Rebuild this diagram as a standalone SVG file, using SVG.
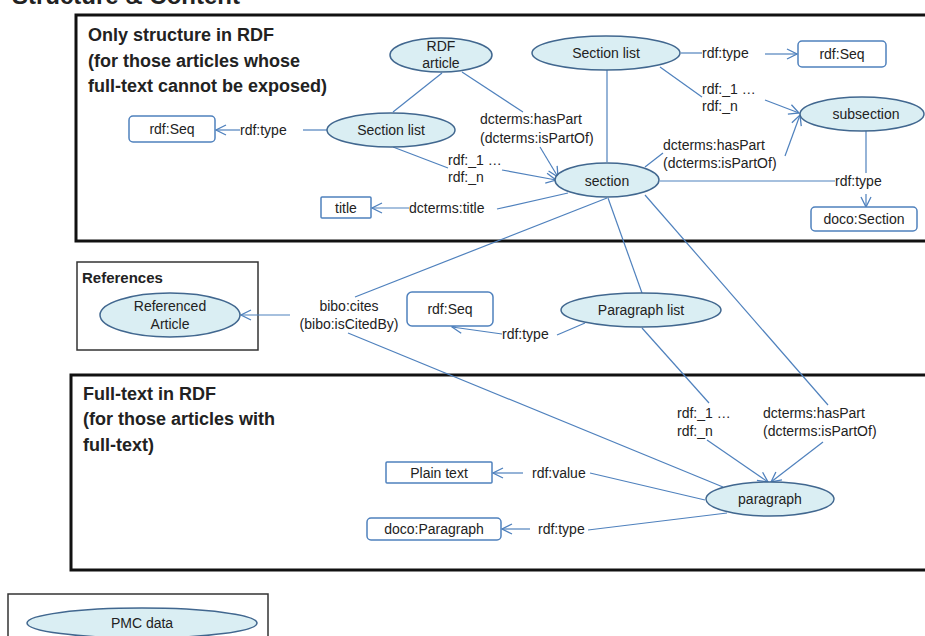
<svg xmlns="http://www.w3.org/2000/svg" width="925" height="636" viewBox="0 0 925 636">
  <defs>
    <marker id="arrow" viewBox="0 0 12 12" refX="11" refY="6" markerWidth="12" markerHeight="12" markerUnits="userSpaceOnUse" orient="auto">
      <path d="M1,1 L11,6 L1,11" fill="none" stroke="#4F81BD" stroke-width="1.3"/>
    </marker>
  </defs>
  <style>
    text { font-family: "Liberation Sans", Arial, sans-serif; fill: #222; }
    .title { font-size: 24px; font-weight: bold; }
    .head { font-size: 18px; font-weight: bold; }
    .refs { font-size: 15px; font-weight: bold; }
    .lbl { font-size: 14px; }
    .ctr { text-anchor: middle; }
    .frame { fill: none; stroke: #111; stroke-width: 3; }
    .thin { fill: none; stroke: #333; stroke-width: 1.5; }
    .ell { fill: #DAEEF3; stroke: #41678F; stroke-width: 1.5; }
    .box { fill: #fff; stroke: #4F81BD; stroke-width: 1.5; }
    .con { fill: none; stroke: #4F81BD; stroke-width: 1.2; }
    .arr { marker-end: url(#arrow); }
  </style>

  <rect width="925" height="636" fill="#fff"/>

  <!-- page heading -->
  <text class="title" x="12" y="4">Structure &amp; Content</text>

  <!-- grouping frames -->
  <g id="frames">
    <rect class="frame" x="76" y="15" width="852" height="226"/>
    <rect class="frame" x="71" y="375" width="857" height="195"/>
    <rect class="thin" x="77" y="262" width="181" height="88"/>
    <rect class="thin" x="8" y="594" width="260" height="60"/>
    <text class="head" x="88" y="41">Only structure in RDF</text>
    <text class="head" x="88" y="67">(for those articles whose</text>
    <text class="head" x="88" y="92">full-text cannot be exposed)</text>
    <text class="head" x="83" y="400">Full-text in RDF</text>
    <text class="head" x="83" y="425">(for those articles with</text>
    <text class="head" x="83" y="451">full-text)</text>
    <text class="refs" x="82" y="283">References</text>
  </g>

  <!-- connectors and their labels -->
  <g id="connectors">
    <line class="con" x1="442" y1="73" x2="393" y2="112"/>

    <line class="con" x1="327" y1="130" x2="303" y2="130"/>
    <line class="con arr" x1="240" y1="130" x2="216" y2="130"/>
    <text class="lbl" x="240" y="135">rdf:type</text>

    <line class="con" x1="393" y1="147" x2="448" y2="168"/>
    <line class="con arr" x1="502" y1="170" x2="556" y2="180"/>
    <text class="lbl" x="448" y="165">rdf:_1 …</text>
    <text class="lbl" x="448" y="182">rdf:_n</text>

    <line class="con" x1="462" y1="72" x2="523" y2="112"/>
    <line class="con arr" x1="540" y1="147" x2="558" y2="177"/>
    <text class="lbl" x="480" y="124">dcterms:hasPart</text>
    <text class="lbl" x="480" y="143">(dcterms:isPartOf)</text>

    <line class="con" x1="568" y1="193" x2="497" y2="209"/>
    <line class="con arr" x1="409" y1="208" x2="372" y2="208"/>
    <text class="lbl" x="409" y="213">dcterms:title</text>

    <line class="con" x1="681" y1="53" x2="702" y2="53"/>
    <line class="con arr" x1="765" y1="54" x2="797" y2="54"/>
    <text class="lbl" x="702" y="58">rdf:type</text>

    <line class="con" x1="660" y1="67" x2="702" y2="97"/>
    <line class="con arr" x1="765" y1="100" x2="799" y2="113"/>
    <text class="lbl" x="702" y="94">rdf:_1 …</text>
    <text class="lbl" x="702" y="111">rdf:_n</text>

    <line class="con" x1="607" y1="70" x2="607" y2="162"/>

    <line class="con" x1="645" y1="167" x2="663" y2="153"/>
    <line class="con arr" x1="785" y1="156" x2="800" y2="115"/>
    <text class="lbl" x="663" y="150">dcterms:hasPart</text>
    <text class="lbl" x="663" y="168">(dcterms:isPartOf)</text>

    <line class="con" x1="660" y1="181" x2="835" y2="181"/>
    <line class="con" x1="866" y1="131" x2="866" y2="173"/>
    <line class="con arr" x1="866" y1="194" x2="866" y2="207"/>
    <text class="lbl" x="835" y="186">rdf:type</text>

    <line class="con" x1="607" y1="198" x2="355" y2="297"/>
    <line class="con arr" x1="290" y1="315" x2="241" y2="315"/>
    <text class="lbl ctr" x="349" y="311">bibo:cites</text>
    <text class="lbl ctr" x="349" y="329">(bibo:isCitedBy)</text>
    <line class="con" x1="348" y1="333" x2="723" y2="487"/>

    <line class="con" x1="608" y1="198" x2="642" y2="293"/>

    <line class="con" x1="645" y1="195" x2="828" y2="405"/>
    <line class="con arr" x1="823" y1="442" x2="771" y2="482"/>
    <text class="lbl" x="763" y="418">dcterms:hasPart</text>
    <text class="lbl" x="763" y="436">(dcterms:isPartOf)</text>

    <line class="con" x1="585" y1="323" x2="557" y2="335"/>
    <line class="con arr" x1="502" y1="334" x2="452" y2="327"/>
    <text class="lbl" x="502" y="339">rdf:type</text>

    <line class="con" x1="642" y1="328" x2="709" y2="403"/>
    <line class="con arr" x1="707" y1="440" x2="768" y2="482"/>
    <text class="lbl" x="677" y="418">rdf:_1 …</text>
    <text class="lbl" x="677" y="436">rdf:_n</text>

    <line class="con" x1="705" y1="500" x2="590" y2="473"/>
    <line class="con arr" x1="523" y1="473" x2="493" y2="473"/>
    <text class="lbl" x="532" y="478">rdf:value</text>

    <line class="con" x1="727" y1="513" x2="588" y2="530"/>
    <line class="con arr" x1="530" y1="529" x2="502" y2="529"/>
    <text class="lbl" x="538" y="534">rdf:type</text>
  </g>

  <!-- nodes -->
  <g id="rdf-article">
    <ellipse class="ell" cx="441" cy="55" rx="51" ry="17"/>
    <text class="lbl ctr" x="441" y="51">RDF</text>
    <text class="lbl ctr" x="441" y="68">article</text>
  </g>
  <g id="section-list-left">
    <ellipse class="ell" cx="391" cy="130" rx="64" ry="17"/>
    <text class="lbl ctr" x="391" y="135">Section list</text>
  </g>
  <g id="rdf-seq-left">
    <rect class="box" x="129" y="116" width="86" height="26" rx="4"/>
    <text class="lbl ctr" x="172" y="134">rdf:Seq</text>
  </g>
  <g id="title">
    <rect class="box" x="321" y="197" width="50" height="21" rx="1"/>
    <text class="lbl ctr" x="346" y="213">title</text>
  </g>
  <g id="section-list-top">
    <ellipse class="ell" cx="606" cy="53" rx="74" ry="17"/>
    <text class="lbl ctr" x="606" y="58">Section list</text>
  </g>
  <g id="rdf-seq-top">
    <rect class="box" x="798" y="41" width="88" height="26" rx="4"/>
    <text class="lbl ctr" x="842" y="59">rdf:Seq</text>
  </g>
  <g id="subsection">
    <ellipse class="ell" cx="862" cy="114" rx="62" ry="17"/>
    <text class="lbl ctr" x="866" y="119">subsection</text>
  </g>
  <g id="section">
    <ellipse class="ell" cx="607" cy="180" rx="52" ry="17"/>
    <text class="lbl ctr" x="607" y="186">section</text>
  </g>
  <g id="doco-section">
    <rect class="box" x="811" y="207" width="106" height="24" rx="4"/>
    <text class="lbl ctr" x="864" y="224">doco:Section</text>
  </g>
  <g id="referenced-article">
    <ellipse class="ell" cx="170" cy="315" rx="70" ry="22"/>
    <text class="lbl ctr" x="170" y="311">Referenced</text>
    <text class="lbl ctr" x="170" y="329">Article</text>
  </g>
  <g id="rdf-seq-mid">
    <rect class="box" x="407" y="292" width="86" height="34" rx="5"/>
    <text class="lbl ctr" x="450" y="314">rdf:Seq</text>
  </g>
  <g id="paragraph-list">
    <ellipse class="ell" cx="641" cy="310" rx="80" ry="17"/>
    <text class="lbl ctr" x="641" y="315">Paragraph list</text>
  </g>
  <g id="paragraph">
    <ellipse class="ell" cx="770" cy="499" rx="64" ry="17"/>
    <text class="lbl ctr" x="770" y="504">paragraph</text>
  </g>
  <g id="plain-text">
    <rect class="box" x="386" y="462" width="106" height="21" rx="1"/>
    <text class="lbl ctr" x="439" y="478">Plain text</text>
  </g>
  <g id="doco-paragraph">
    <rect class="box" x="367" y="518" width="134" height="22" rx="4"/>
    <text class="lbl ctr" x="434" y="534">doco:Paragraph</text>
  </g>
  <g id="pmc-data">
    <ellipse class="ell" cx="142" cy="623" rx="115" ry="15"/>
    <text class="lbl ctr" x="142" y="628">PMC data</text>
  </g>
</svg>
